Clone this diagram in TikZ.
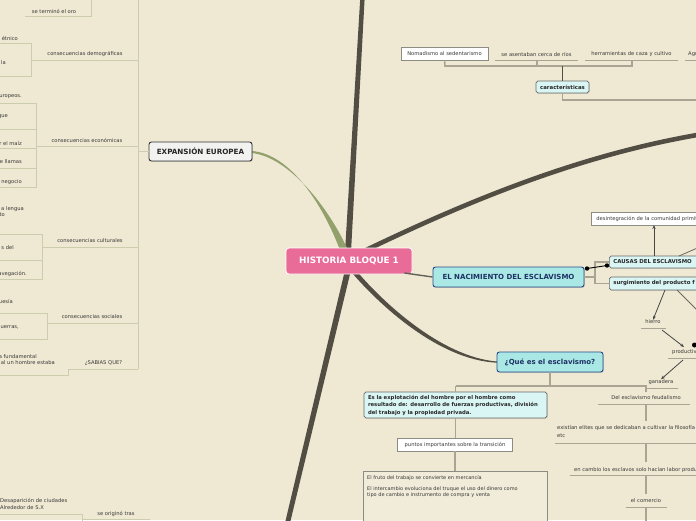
\documentclass[tikz,border=0pt]{standalone}
\usepackage{fontspec}
\setmainfont{DejaVu Sans}
\usetikzlibrary{arrows.meta,shadows}
\definecolor{bg}{RGB}{239,233,211}
\definecolor{dk}{RGB}{82,78,68}
\definecolor{olv}{RGB}{146,160,108}
\definecolor{ltc}{RGB}{204,205,172}
\definecolor{grc}{RGB}{170,164,148}
\definecolor{txtc}{RGB}{55,55,55}
\definecolor{pinkc}{RGB}{233,108,152}
\definecolor{cyf}{RGB}{170,232,230}
\definecolor{cyb}{RGB}{40,75,135}
\definecolor{cyt}{RGB}{30,50,100}
\definecolor{lcf}{RGB}{218,246,244}
\definecolor{lcb}{RGB}{105,105,105}
\definecolor{expf}{RGB}{242,242,240}
\definecolor{boxb}{RGB}{140,140,132}
\definecolor{fruf}{RGB}{241,236,217}
\definecolor{arc}{RGB}{70,70,70}
\tikzset{
 sm/.style={font=\fontsize{5.2}{6.5}\selectfont, text=txtc, inner sep=0pt},
 lt/.style={draw=ltc, line width=1pt},
 gl/.style={draw=grc, line width=1.1pt},
 ul/.style={draw=grc, line width=0.9pt},
 cy/.style={draw=cyb, fill=cyf, rounded corners=2.5pt, line width=0.9pt, inner sep=0pt,
   font=\bfseries\fontsize{7}{8}\selectfont, text=cyt,
   drop shadow={shadow xshift=0.8pt, shadow yshift=-0.8pt, opacity=0.35}},
 lc/.style={draw=lcb, fill=lcf, rounded corners=1.8pt, line width=0.7pt, inner sep=0pt,
   font=\bfseries\fontsize{5.4}{6.5}\selectfont, text=black!85,
   drop shadow={shadow xshift=0.7pt, shadow yshift=-0.7pt, opacity=0.3}},
 wb/.style={draw=boxb, fill=white, line width=0.7pt, inner sep=0pt,
   font=\fontsize{5.2}{6.5}\selectfont, text=txtc,
   drop shadow={shadow xshift=0.7pt, shadow yshift=-0.7pt, opacity=0.3}},
 arr/.style={draw=arc, line width=0.8pt, -{Stealth[length=4pt,width=3.2pt]}},
}
\begin{document}
\begin{tikzpicture}[x=1pt,y=-1pt]
\useasboundingbox (0,0) rectangle (696,520);
\clip (0,0) rectangle (696,520);
\fill[bg] (0,0) rectangle (696,520);

% ---------- main branches ----------
\fill[dk] (345,252) -- (360.3,-3) -- (364.7,-3) -- (351,252) -- cycle;
\draw[dk, line width=4.6pt] (362,252) .. controls (470,200) and (580,155) .. (700,134.5);
\fill[dk] (345,270) -- (285,523) -- (290,523) -- (351,270) -- cycle;
\fill[dk] (353,274) .. controls (379,304) and (438,360) .. (497,362.7) -- (497,361.5) .. controls (441,357) and (382,301) .. (357.5,272) -- cycle;
\fill[olv] (340,250) .. controls (322,203) and (290,154) .. (252,151) -- (252,153) .. controls (288,157) and (327,205) .. (347,248) -- cycle;

% ---------- central nodes ----------
\node[draw=white, fill=pinkc, rounded corners=3pt, line width=0.8pt, minimum width=126pt, minimum height=26pt, inner sep=0pt,
  font=\bfseries\fontsize{8.8}{10}\selectfont, text=white] (hist) at (349,261) {HISTORIA BLOQUE 1};
\node[draw=black!80, fill=expf, rounded corners=2.5pt, line width=0.9pt, minimum width=103pt, minimum height=19pt, inner sep=0pt,
  font=\bfseries\fontsize{7.2}{8}\selectfont, text=black!85,
  drop shadow={shadow xshift=0.8pt, shadow yshift=-0.8pt, opacity=0.35}] (exp) at (200.5,151.5) {EXPANSIÓN EUROPEA};
\node[cy, minimum width=151pt, minimum height=20pt] (nac) at (508.5,277) {EL NACIMIENTO DEL ESCLAVISMO};
\node[cy, minimum width=106pt, minimum height=20pt] (que) at (550,362) {¿Qué es el esclavismo?};
\draw[dk!90, line width=1.4pt] (hist.east) ++(-8,12) coordinate (hn) -- (nac.west);

% ---------- left tree ----------
\coordinate (vtop) at (138,0);
\coordinate (vbot) at (138,369);
\draw[lt] (vtop) -- (vbot);
\draw[lt] (138,151.5) -- (exp.west);

\node[sm] (oro) at (54,11) {se terminó el oro};
\draw[lt] (25,16) -- (91,16) -- (91,0);

\node[sm, anchor=east] (etn) at (18,38) {étnico};
\node[sm, anchor=west] (la) at (1,63) {la};
\draw[lt] (0,43) -- (31,43) -- (31,76) -- (0,76);
\node[sm] (dem) at (85,54) {consecuencias demográficas};
\draw[lt] (31,60) -- (138,60);

\node[sm, anchor=east] (eu) at (22,97) {uropeos.};
\node[sm, anchor=east] (qu) at (8,117) {que};
\node[sm, anchor=east] (mai) at (22,143) {r el maíz};
\node[sm, anchor=east] (lla) at (22,162) {e llamas};
\node[sm, anchor=east] (neg) at (22,182) {negocio};
\draw[lt] (0,103) -- (36,103) -- (36,187) -- (0,187);
\draw[lt] (0,129) -- (36,129);
\draw[lt] (0,148) -- (36,148);
\draw[lt] (0,168) -- (36,168);
\node[sm] (eco) at (87,140) {consecuencias económicas};
\draw[lt] (36,146) -- (138,146);

\node[sm, anchor=east] (len) at (24,209) {a lengua};
\node[sm, anchor=east] (to) at (5,215) {to};

\node[sm, anchor=east] (sde) at (14,248) {s del};
\node[sm, anchor=east] (nav) at (27,274) {avegación.};
\draw[lt] (0,234) -- (42,234) -- (42,279) -- (0,279);
\draw[lt] (0,260) -- (42,260);
\node[sm] (cul) at (90,241) {consecuencias culturales};
\draw[lt] (42,247) -- (138,247);

\node[sm, anchor=east] (bur) at (13,301) {uesía};
\node[sm, anchor=east] (gue) at (19,327) {uerras,};
\draw[lt] (0,313) -- (47,313) -- (47,339) -- (0,339);
\node[sm] (soc) at (92,317) {consecuencias sociales};
\draw[lt] (47,323) -- (138,323);

\node[sm, anchor=east] (fun) at (37,357) {a fundamental};
\node[sm, anchor=east] (hom) at (55,363) {al un hombre estaba};
\node[sm] (sab) at (103.5,363) {¿SABIAS QUE?};
\draw[lt] (vbot) -- (68,369) -- (68,375) -- (0,375);

\node[sm, anchor=west] (des) at (0,501) {Desaparición de ciudades};
\node[sm, anchor=west] (alr) at (0,508) {Alrededor de S.X};
\draw[lt] (0,514) -- (82,514) -- (82,522);
\node[sm] (ori) at (116,514) {se originó tras};
\draw[lt] (82,519) -- (150,519);

% ---------- top right ----------
\node[wb, minimum width=87pt, minimum height=13pt] (noma) at (444.5,53.5) {Nomadismo al sedentarismo};
\node[sm] (asen) at (536.5,54) {se asentaban cerca de ríos};
\draw[ul] (495,60) -- (578,60);
\node[sm] (herr) at (631.5,54) {herramientas de caza y cultivo};
\draw[ul] (585,60) -- (678,60);
\node[sm, anchor=west] (agri) at (688,54) {Agricultura};
\draw[ul] (685,60) -- (700,60);
\draw[gl, line width=1.6pt] (noma.south) -- (445,66) -- (632,66) -- (632,60);
\draw[gl, line width=1.6pt] (537,60) -- (537,66);
\node[lc, minimum width=53pt, minimum height=12pt] (caract) at (562.5,87) {características};
\draw[dk, line width=1pt] (562.5,66) -- (caract.north);
\draw[gl, line width=1.3pt] (caract.south) -- (562.5,100) -- (700,100);

% ---------- right middle ----------
\node[wb, anchor=west, minimum height=13pt, text width=112pt, inner xsep=5pt, align=left] (desint) at (591,218.5) {desintegración de la comunidad primitiva};
\node[lc, anchor=west, minimum height=12pt, text width=100pt, inner xsep=4pt, align=left] (causas) at (609,262) {CAUSAS DEL ESCLAVISMO};
\node[lc, anchor=west, minimum height=13pt, text width=100pt, inner xsep=4pt, align=left] (surg) at (609,283.5) {surgimiento del producto f};
\coordinate (ca) at (654,256);
\coordinate (da) at (654,225);
\draw[arr] (ca) -- (da);
\draw[gl] (nac.east) -- (595,277);
\draw[gl] (causas.west) -- (595,262) -- (595,283.5) -- (surg.west);
\coordinate (d1) at (587,268.5);
\coordinate (d2) at (607,265.5);
\draw[black, line width=0.9pt] (d1) -- (d2);
\fill[black] (d1) circle (2.2pt);
\fill[black] (d2) circle (2.2pt);
\draw[dk!85, line width=0.8pt] (679,256) -- (702,246);

\node[sm] (hierro) at (653,322) {hierro};
\draw[ul] (641,328) -- (666,328);
\draw[arr] (665,290) -- (hierro.north);
\draw[dk!85, line width=0.8pt] (677,290) -- (700,313);
\node[sm, anchor=west] (prod) at (672,352) {productivas};
\draw[ul] (668,358) -- (700,358);
\draw[arr] (662,330) -- (684,347);
\fill[black] (694.5,345) circle (2.5pt);
\node[sm] (gan) at (661,382) {ganadera};
\draw[ul] (645,388) -- (678,388);
\draw[arr] (683,360) -- (gan.north);

% ---------- que esclavismo ----------
\draw[gl] (que.south) -- (550,386);
\draw[gl] (455.5,386) -- (646,386) -- (646,392);
\node[sm] (feud) at (646,398) {Del esclavismo feudalismo};
\draw[ul] (598,404) -- (690,404);
\draw[gl] (646,404) -- (646,421);
\node[sm, anchor=north west, align=left, font=\fontsize{5.2}{8.5}\selectfont] (elit) at (557,425) {existían elites que se dedicaban a cultivar la filosofía\\etc};
\draw[ul] (555,443) -- (700,443);
\draw[gl] (646,443) -- (646,462);
\node[sm, anchor=west] (camb) at (574,469.5) {en cambio los esclavos solo hacían labor productiva};
\draw[ul] (570,475) -- (700,475);
\draw[gl] (646,475) -- (646,494);
\node[sm] (com) at (646,501) {el comercio};
\draw[ul] (626,507) -- (667,507);
\draw[gl] (646,507) -- (646,522);

\node[lc, minimum width=183pt, minimum height=26pt, text width=175pt, align=left,
  font=\bfseries\fontsize{5.3}{7.5}\selectfont] (expl) at (455.5,405) {Es la explotación del hombre por el hombre como\\resultado de: desarrollo de fuerzas productivas, división\\del trabajo y la propiedad privada.};
\draw[gl] (455.5,386) -- (expl.north);
\node[wb, minimum width=115pt, minimum height=13pt] (puntos) at (455,444.5) {puntos importantes sobre la transición};
\draw[gl] (expl.south) -- (455.5,438);
\node[draw=boxb, fill=fruf, line width=0.7pt, minimum width=184pt, minimum height=70pt, anchor=north, inner sep=0pt] (fruto) at (455,471) {};
\draw[gl] (puntos.south) -- (fruto.north);
\node[sm, anchor=north west, align=left, font=\fontsize{5}{6}\selectfont] (frutot) at (367,475.5) {El fruto del trabajo se convierte en mercancía\\[4.7pt]El intercambio evoluciona del truque el uso del dinero como\\tipo de cambio e instrumento de compra y venta};
\end{tikzpicture}
\end{document}
